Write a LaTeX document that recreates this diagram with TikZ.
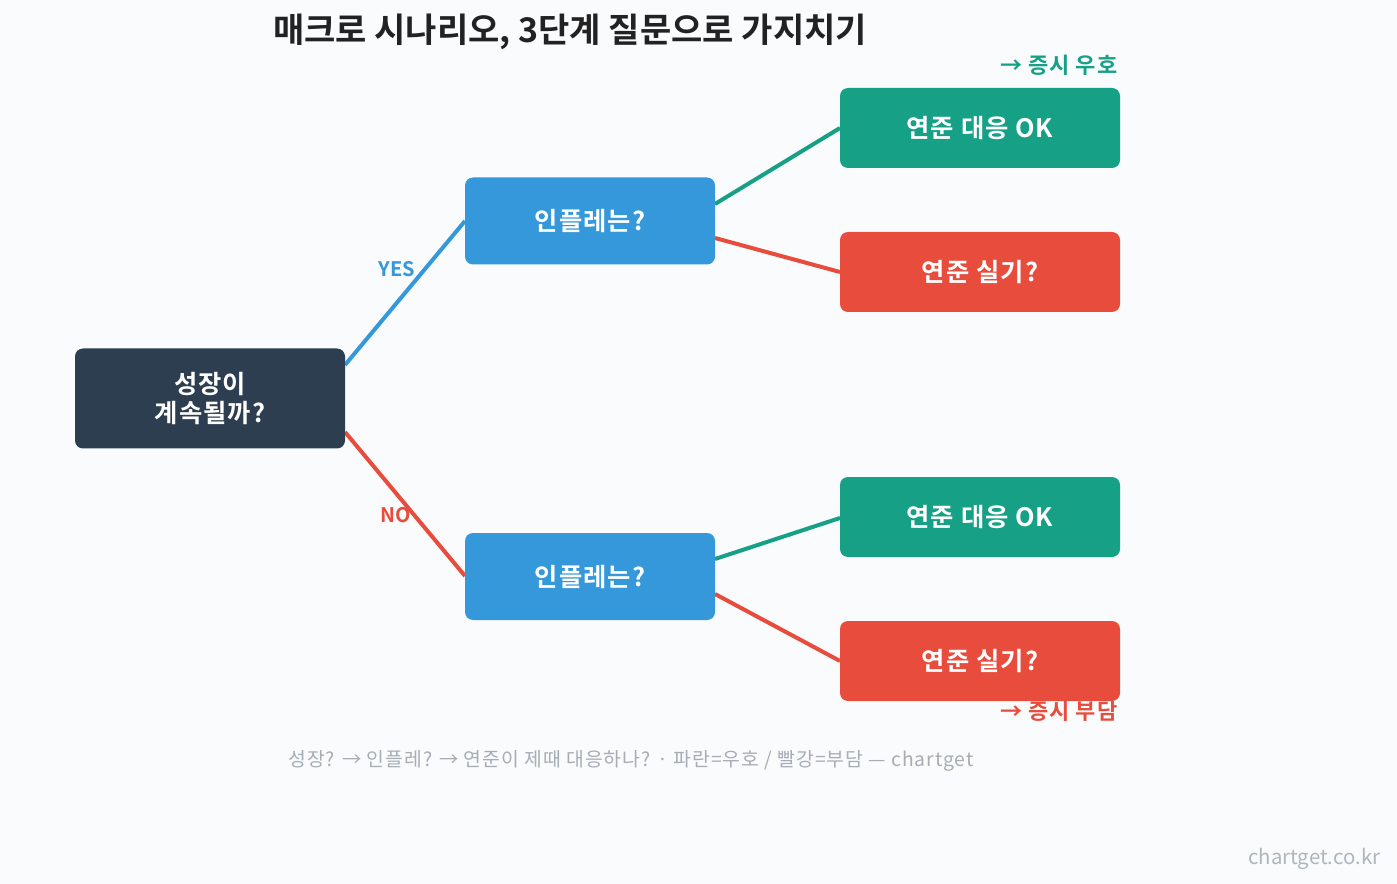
\documentclass[tikz,border=0pt]{standalone}
\usepackage{fontspec}
\setmainfont{Noto Sans CJK KR}
\newfontfamily\kb{Noto Sans CJK KR Bold}
\newfontfamily\kbw[LetterSpace=4]{Noto Sans CJK KR Bold}
\newfontfamily\kr{Noto Sans CJK KR}
\newfontfamily\krw[LetterSpace=5]{Noto Sans CJK KR}
\definecolor{bg}{HTML}{F9FBFD}
\definecolor{navy}{HTML}{2C3E50}
\definecolor{blu}{HTML}{3498DB}
\definecolor{grn}{HTML}{16A085}
\definecolor{rd}{HTML}{E74C3C}
\definecolor{ttl}{HTML}{222222}
\definecolor{gry}{HTML}{A6ADB4}
\definecolor{wm}{HTML}{AEB6BF}
\begin{document}
\begin{tikzpicture}[x=0.75pt,y=-0.75pt,
  box/.style={rounded corners=6pt, inner sep=0pt, text=white, font=\kbw\fontsize{19}{21}\selectfont, align=center},
  edge/.style={line width=3pt},
  lbl/.style={font=\kb\fontsize{15}{17}\selectfont},
  side/.style={font=\kbw\fontsize{16.5}{19}\selectfont}]
\fill[bg] (0,0) rectangle (1397,884);
\useasboundingbox (0,0) rectangle (1397,884);
\node[font=\kb\fontsize{25.5}{30}\selectfont, text=ttl] (title) at (570,32) {매크로 시나리오, 3단계 질문으로 가지치기};
% coordinates for edge ends
\coordinate (r1) at (345,365);
\coordinate (r2) at (345,432);
\coordinate (m1a) at (715,204);
\coordinate (m1b) at (715,238);
\coordinate (m2a) at (715,559);
\coordinate (m2b) at (715,594);
\coordinate (l1) at (840,128);
\coordinate (l2) at (840,272);
\coordinate (l3) at (840,518);
\coordinate (l4) at (840,661);
\coordinate (m1w) at (465,221);
\coordinate (m2w) at (465,576);
\draw[edge, blu] (r1) -- (m1w);
\draw[edge, rd] (r2) -- (m2w);
\draw[edge, grn] (m1a) -- (l1);
\draw[edge, rd] (m1b) -- (l2);
\draw[edge, grn] (m2a) -- (l3);
\draw[edge, rd] (m2b) -- (l4);
\node[lbl, text=blu] (yes) at (397,269) {YES};
\node[lbl, text=rd] (no) at (396,515) {NO};
\node[side, text=grn, anchor=east] (up) at (1122,65) {→ 증시 우호};
\node[side, text=rd, anchor=east] (down) at (1122,711) {→ 증시 부담};
\node[box, fill=navy, minimum width=270*0.75pt, minimum height=100*0.75pt] (root) at (210,398.5) {성장이\\계속될까?};
\node[box, fill=blu, minimum width=250*0.75pt, minimum height=87*0.75pt] (m1) at (590,221) {인플레는?};
\node[box, fill=blu, minimum width=250*0.75pt, minimum height=87*0.75pt] (m2) at (590,576.5) {인플레는?};
\node[box, fill=grn, minimum width=280*0.75pt, minimum height=80*0.75pt] (L1) at (980,128) {연준 대응 OK};
\node[box, fill=rd, minimum width=280*0.75pt, minimum height=80*0.75pt] (L2) at (980,272) {연준 실기?};
\node[box, fill=grn, minimum width=280*0.75pt, minimum height=80*0.75pt] (L3) at (980,517) {연준 대응 OK};
\node[box, fill=rd, minimum width=280*0.75pt, minimum height=80*0.75pt] (L4) at (980,661) {연준 실기?};
\node[font=\krw\fontsize{14.5}{16}\selectfont, text=gry] (foot) at (631,761) {성장? → 인플레? → 연준이 제때 대응하나? · 파란=우호 / 빨강=부담 — chartget};
\node[font=\kr\fontsize{15.3}{17}\selectfont, text=wm, anchor=east] (wmk) at (1385,859) {chartget.co.kr};
\end{tikzpicture}
\end{document}
